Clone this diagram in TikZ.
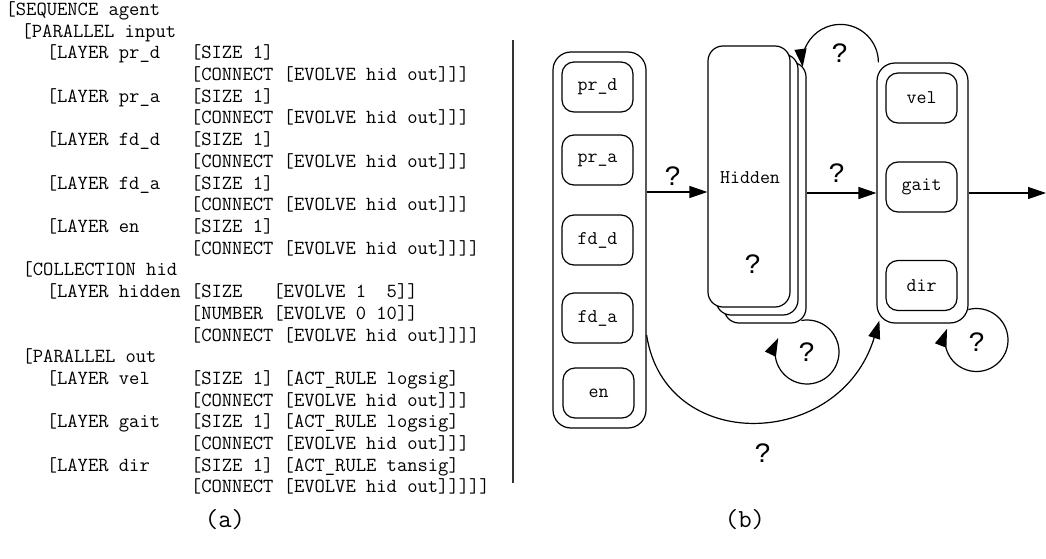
\documentclass[tikz,border=0pt]{standalone}
\usepackage{fontspec}
\newfontfamily\monof{Latin Modern Mono}
\newfontfamily\qfont{Liberation Mono}
\usetikzlibrary{arrows.meta,calc}
\tikzset{
  code/.style={font=\monof\fontsize{20}{22}\selectfont, anchor=base west, inner sep=0pt},
  lbl/.style={font=\monof\fontsize{19.4}{22}\selectfont},
  unit/.style={draw, rounded corners=12pt, minimum width=71pt, minimum height=50pt, inner sep=0pt, lbl},
  group/.style={draw, rounded corners=18pt, inner sep=0pt},
  stack/.style={draw, fill=white, rounded corners=15pt, inner sep=0pt, minimum width=82pt, minimum height=261pt},
  qm/.style={font=\qfont\fontsize{28}{30}\selectfont, inner sep=0pt},
  arr/.style={-{Triangle[length=18pt,width=12pt]}},
  sub/.style={font=\monof\fontsize{26}{28}\selectfont, inner sep=0pt}
}
\begin{document}
\begin{tikzpicture}[x=1pt, y=-1pt, line width=1.2pt, line join=round]
\useasboundingbox (0,0) rectangle (1046,559);
% ---------- (a) listing ----------
\node[code] (l1)  at (5,15.5)  {[SEQUENCE agent};
\node[code] (l2)  at (21,37.2) {[PARALLEL input};
\node[code] (l3)  at (5,58.9)  {~~~~[LAYER pr\_d~~~[SIZE 1]};
\node[code] (l4)  at (5,80.6)  {~~~~~~~~~~~~~~~~~~[CONNECT [EVOLVE hid out]]]};
\node[code] (l5)  at (5,102.3) {~~~~[LAYER pr\_a~~~[SIZE 1]};
\node[code] (l6)  at (5,124)   {~~~~~~~~~~~~~~~~~~[CONNECT [EVOLVE hid out]]]};
\node[code] (l7)  at (5,145.7) {~~~~[LAYER fd\_d~~~[SIZE 1]};
\node[code] (l8)  at (5,167.4) {~~~~~~~~~~~~~~~~~~[CONNECT [EVOLVE hid out]]]};
\node[code] (l9)  at (5,189.1) {~~~~[LAYER fd\_a~~~[SIZE 1]};
\node[code] (l10) at (5,210.8) {~~~~~~~~~~~~~~~~~~[CONNECT [EVOLVE hid out]]]};
\node[code] (l11) at (5,232.5) {~~~~[LAYER en~~~~~[SIZE 1]};
\node[code] (l12) at (5,254.2) {~~~~~~~~~~~~~~~~~~[CONNECT [EVOLVE hid out]]]]};
\node[code] (l13) at (22,275.9) {[COLLECTION hid};
\node[code] (l14) at (5,297.6) {~~~~[LAYER hidden [SIZE~~~[EVOLVE 1~~5]]};
\node[code] (l15) at (5,319.3) {~~~~~~~~~~~~~~~~~~[NUMBER [EVOLVE 0 10]]};
\node[code] (l16) at (5,341)   {~~~~~~~~~~~~~~~~~~[CONNECT [EVOLVE hid out]]]]};
\node[code] (l17) at (22,362.7) {[PARALLEL out};
\node[code] (l18) at (5,384.4) {~~~~[LAYER vel~~~~[SIZE 1] [ACT\_RULE logsig]};
\node[code] (l19) at (5,406.1) {~~~~~~~~~~~~~~~~~~[CONNECT [EVOLVE hid out]]]};
\node[code] (l20) at (5,427.8) {~~~~[LAYER gait~~~[SIZE 1] [ACT\_RULE logsig]};
\node[code] (l21) at (5,449.5) {~~~~~~~~~~~~~~~~~~[CONNECT [EVOLVE hid out]]]};
\node[code] (l22) at (5,471.2) {~~~~[LAYER dir~~~~[SIZE 1] [ACT\_RULE tansig]};
\node[code] (l23) at (5,492.9) {~~~~~~~~~~~~~~~~~~[CONNECT [EVOLVE hid out]]]]]};
% separator
\coordinate (sepA) at (512.7,40);
\coordinate (sepB) at (512.7,483);
\draw[line width=2pt, black!80] (sepA) -- (sepB);
% ---------- (b) network ----------
\node[group, minimum width=93pt, minimum height=376pt] (inbox) at (599.5,240) {};
\node[unit] (prd) at (597.5,87)  {pr\_d};
\node[unit] (pra) at (597.5,160) {pr\_a};
\node[unit] (fdd) at (597.5,240) {fd\_d};
\node[unit] (fda) at (597.5,318) {fd\_a};
\node[unit] (en)  at (598.5,393) {en};
% hidden stack
\node[stack] (hid3) at (765,192.5) {};
\node[stack] (hid2) at (757,184.5) {};
\node[stack] (hid1) at (749,176.5) {};
\node[lbl] (hidt) at (750,178) {Hidden};
\node[qm] (q0) at (753,264) {?};
% output group
\node[group, minimum width=91pt, minimum height=260pt] (outbox) at (922.5,193) {};
\node[unit] (vel)  at (921.5,98)    {vel};
\node[unit] (gait) at (921.5,187)   {gait};
\node[unit] (dir)  at (921.5,285.5) {dir};
% connectors
\draw[arr] (inbox.east |- 0,192) -- (hid1.west |- 0,192);
\node[qm] (q1) at (673,176) {?};
\draw[arr] (hid3.east |- outbox.west) -- (outbox.west);
\node[qm] (q2) at (837,173) {?};
\coordinate (outend) at (1046,193);
\draw[arr] (outbox.east) -- (outend);
% loop from output group back to hidden (top)
\draw[arr] ([xshift=2pt]outbox.north west) arc[start angle=0, end angle=-187, radius=38];
\node[qm] (q3) at (840,53) {?};
% hidden self loop
\coordinate (hl) at (807,352);
\draw[arr] ($(hl)+(-100:32)$) arc[start angle=-100, end angle=206, radius=32];
\node[qm] (q4) at (hl) {?};
% output self loop
\coordinate (ol) at (976.5,340);
\draw[arr] ($(ol)+(-105:31.5)$) arc[start angle=-105, end angle=201, radius=31.5];
\node[qm] (q5) at (977,342) {?};
% big arc input -> output
\draw[arr] (inbox.east |- 0,335) .. controls (665,455) and (840,450) .. ([xshift=3pt,yshift=3pt]outbox.south west);
\node[qm] (q6) at (763,453) {?};
% captions
\node[sub] (capa) at (225,520) {(a)};
\node[sub] (capb) at (745,520) {(b)};
\end{tikzpicture}
\end{document}
